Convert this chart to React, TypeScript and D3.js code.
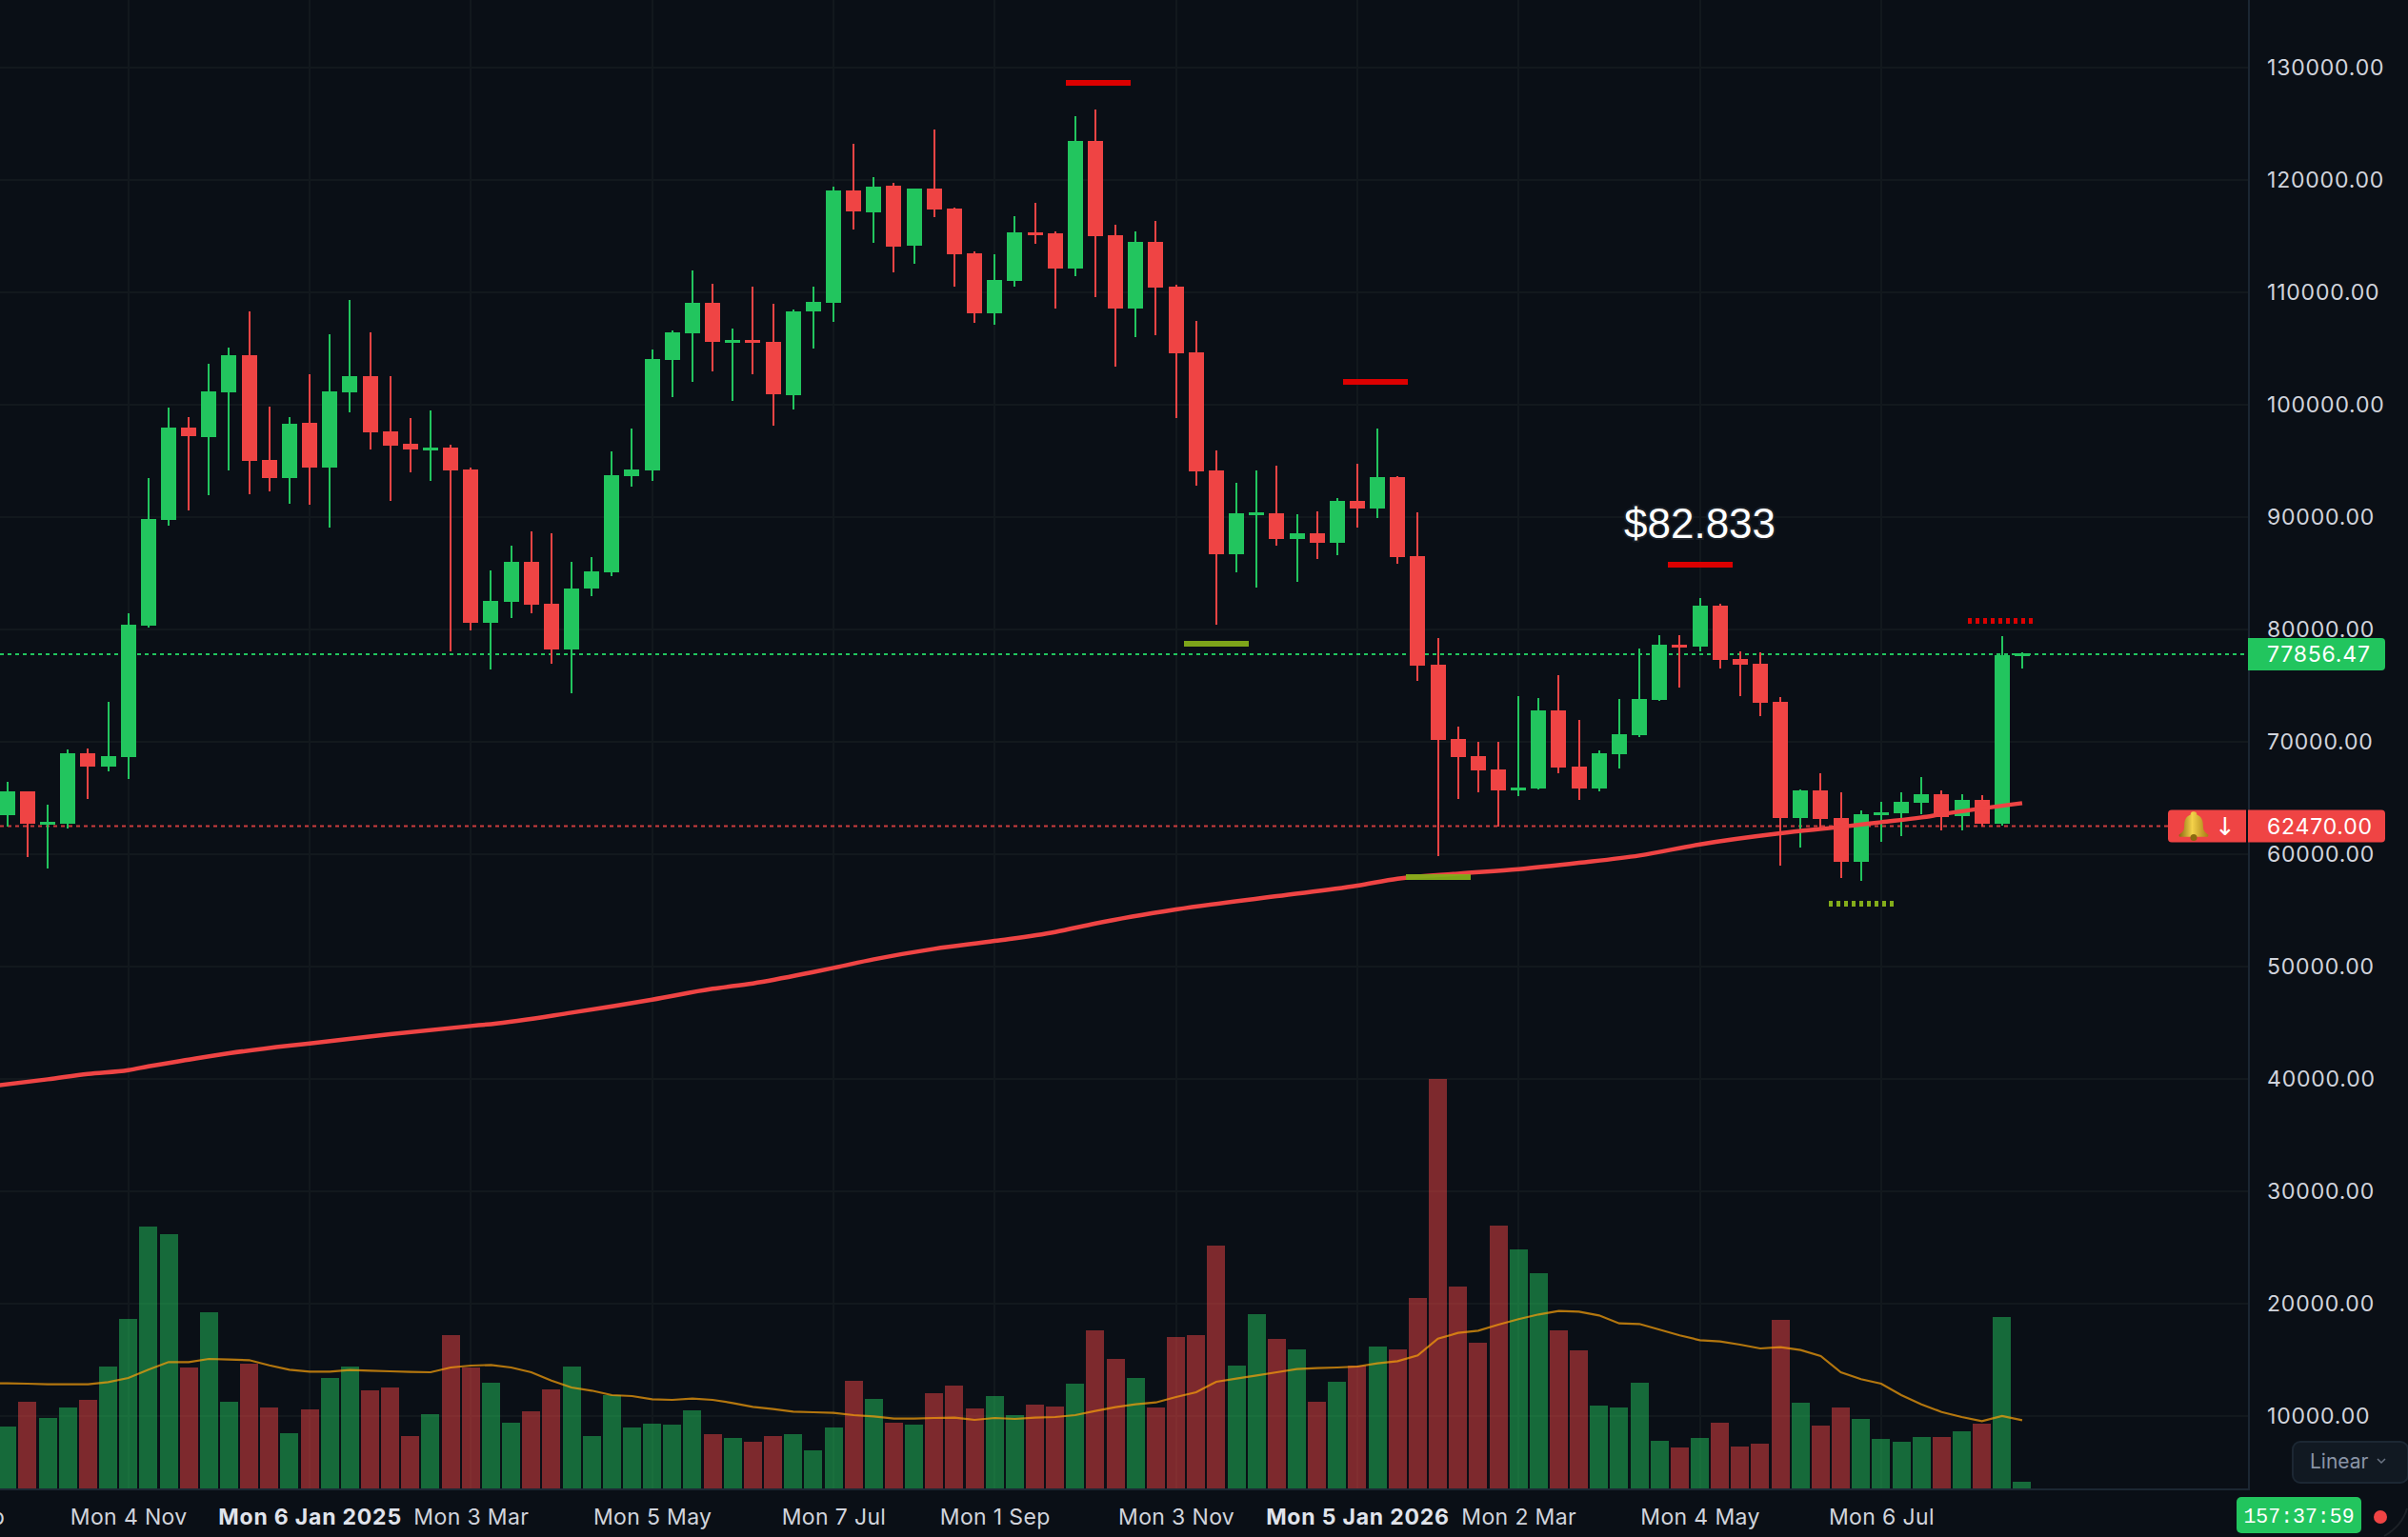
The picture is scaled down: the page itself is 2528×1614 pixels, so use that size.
import React, { useEffect, useRef } from 'react';
import * as d3 from 'd3';

// weekly candles, first one is Mon 23 Sep 2024
const firstWeek = Date.UTC(2024, 8, 23);

const opens = [
  63446, 65565, 62598, 62683, 68955, 67768, 68616, 80311, 89718, 97939,
  97091, 101074, 104380, 95057, 93447, 98362, 94379, 101074, 102515, 97600,
  96498, 95905, 96159, 94210, 80565, 82429, 85989, 82260, 78192, 83616,
  85057, 93617, 94125, 103956, 106329, 109041, 105567, 105736, 105567, 100821,
  108279, 109041, 119042, 117093, 119466, 114126, 119211, 117432, 113448, 108109,
  110991, 115313, 115228, 112092, 123449, 115059, 108533, 114465, 110482, 104634,
  94125, 86667, 90142, 90312, 88023, 88532, 87684, 91413, 90735, 93532,
  86498, 76836, 70226, 68700, 67514, 65649, 65819, 72768, 67768, 65819,
  68870, 70565, 73701, 78616, 78447, 82091, 77345, 76921, 73531, 63192,
  65649, 63192, 59293, 63446, 63615, 64548, 65310, 63389, 64802, 62683,
  77700,
];
const highs = [
  66412, 65565, 64378, 69294, 69378, 73531, 81413, 93447, 99718, 98871,
  103617, 105058, 108278, 99803, 98871, 102685, 106244, 109295, 106414, 102515,
  98786, 99464, 96413, 94379, 85226, 87430, 88701, 88531, 85989, 86413,
  95821, 97854, 104889, 106584, 111923, 110736, 106753, 110482, 108957, 108448,
  110482, 119381, 123195, 120228, 119720, 119211, 124466, 117516, 113618, 113364,
  116754, 117940, 115398, 125652, 126246, 115991, 115398, 116330, 110652, 107431,
  95905, 93024, 94125, 94549, 90227, 90481, 91668, 94719, 97854, 93600,
  90396, 79209, 71328, 69972, 69972, 74040, 73870, 75904, 71921, 69209,
  73785, 78277, 79464, 79464, 82769, 82260, 78023, 77938, 73955, 65734,
  67175, 65480, 63870, 64632, 65480, 66836, 65649, 65310, 65226, 79379,
  77900,
];
const lows = [
  62429, 59717, 58700, 62259, 64887, 67344, 66666, 80141, 89209, 90565,
  91921, 94125, 92006, 92260, 91159, 91074, 89040, 99295, 95989, 91413,
  93955, 93193, 78022, 79887, 76412, 80989, 81412, 76921, 74293, 82938,
  84700, 92685, 93193, 100651, 102007, 102939, 100312, 102685, 98109, 99549,
  104973, 107346, 115567, 114381, 111753, 112516, 116669, 110482, 107262, 107092,
  110482, 114296, 108533, 111414, 109550, 103363, 105990, 106160, 98787, 92769,
  80396, 85057, 83701, 87430, 84210, 86244, 86583, 89040, 89888, 85820,
  75396, 59802, 64887, 65480, 62429, 65141, 65734, 67175, 64802, 65565,
  67599, 70395, 73616, 74802, 78023, 76497, 74040, 72260, 58954, 60564,
  62344, 57852, 57598, 61073, 61581, 63531, 62090, 62090, 62401, 62514,
  76497,
];
const closes = [
  65565, 62683, 62853, 68955, 67768, 68700, 80396, 89803, 97939, 97176,
  101159, 104380, 94972, 93447, 98278, 94379, 101159, 102515, 97515, 96328,
  95989, 96159, 94125, 80565, 82514, 85989, 82175, 78192, 83616, 85141,
  93701, 94210, 104041, 106414, 109041, 105567, 105736, 105482, 100905, 108279,
  109126, 119042, 117177, 119381, 114042, 119211, 117347, 113364, 108109, 111075,
  115313, 115059, 112092, 123449, 114974, 108533, 114465, 110397, 104550, 94041,
  86667, 90312, 90396, 88023, 88532, 87684, 91413, 90735, 93532, 86413,
  76752, 70141, 68616, 67429, 65649, 65904, 72768, 67683, 65819, 68955,
  70650, 73785, 78616, 78447, 82091, 77260, 76836, 73446, 63192, 65649,
  63107, 59293, 63531, 63700, 64632, 65310, 63248, 64802, 62683, 77712,
  77856.47,
];
const volumes = [
  6470, 9070, 7370, 8470, 9270, 12770, 17770, 27470, 26670, 12670,
  18470, 9070, 13070, 8470, 5770, 8270, 11570, 12770, 10270, 10570,
  5470, 7770, 16070, 12700, 11070, 6870, 8070, 10370, 12770, 5470,
  9770, 6370, 6770, 6670, 8170, 5670, 5270, 4870, 5470, 5670,
  3970, 6370, 11270, 9370, 6870, 6670, 9970, 10770, 8370, 9670,
  7670, 8770, 8570, 10970, 16570, 13570, 11570, 8470, 15870, 16070,
  25470, 12870, 18270, 15670, 14570, 9070, 11170, 12870, 14870, 14570,
  19970, 42970, 21170, 15270, 27570, 25070, 22570, 16570, 14470, 8670,
  8470, 11070, 4970, 4270, 5270, 6870, 4370, 4670, 17670, 8970,
  6570, 8470, 7270, 5170, 4870, 5370, 5370, 5970, 6770, 17970,
  670,
];
// volume average starts one week before the first candle, off the left edge
const volumeMa = [
  11050,
  11030, 11000, 10930, 10930, 10930, 11170, 11600, 12470, 13270, 13270,
  13600, 13530, 13470, 12930, 12470, 12270, 12270, 12430, 12370, 12300,
  12230, 12200, 12700, 12900, 12970, 12700, 12200, 11330, 10600, 10270,
  9800, 9700, 9370, 9300, 9430, 9300, 8970, 8570, 8330, 8070,
  8000, 7930, 7700, 7570, 7330, 7330, 7400, 7430, 7200, 7400,
  7300, 7430, 7500, 7700, 8130, 8530, 8830, 9030, 9600, 10100,
  11200, 11530, 11870, 12200, 12530, 12630, 12700, 12800, 13130, 13370,
  13970, 15730, 16330, 16570, 17200, 17770, 18270, 18630, 18570, 18170,
  17330, 17270, 16670, 16070, 15570, 15430, 15100, 14700, 14830, 14530,
  13900, 12200, 11470, 11000, 9800, 8830, 8030, 7500, 7070, 7600,
  7170,
];

// long moving average, read at these candle positions (weeks from first candle)
const trendWeeks = [
  -1, 2, 4, 6, 7, 9, 11, 14, 15, 19, 23, 24, 28, 32, 35, 37, 40, 41, 43, 46,
  49, 52, 54, 58, 63, 67, 69, 72, 75, 78, 81, 84, 88, 91, 93, 95, 96, 100,
];
const trendValues = [
  39292, 39942, 40423, 40761, 41100, 41694, 42259, 42937, 43134, 43954, 44688, 44857, 45874, 47033, 48000, 48474, 49490, 49858, 50620, 51553,
  52259, 53050, 53813, 55056, 56242, 57174, 57800, 58248, 58644, 59208, 59858, 60847, 61836, 62401, 62825, 63248, 63530, 64520,
];

const priceTicks = d3.range(10000, 140000, 10000);
const timeTicks = [
  Date.UTC(2024, 8, 2), Date.UTC(2024, 10, 4), Date.UTC(2025, 0, 6), Date.UTC(2025, 2, 3),
  Date.UTC(2025, 4, 5), Date.UTC(2025, 6, 7), Date.UTC(2025, 8, 1), Date.UTC(2025, 10, 3),
  Date.UTC(2026, 0, 5), Date.UTC(2026, 2, 2), Date.UTC(2026, 4, 4), Date.UTC(2026, 6, 6),
];
const timeLabels = [
  'Mon 2 Sep', 'Mon 4 Nov', 'Mon 6 Jan 2025', 'Mon 3 Mar', 'Mon 5 May', 'Mon 7 Jul',
  'Mon 1 Sep', 'Mon 3 Nov', 'Mon 5 Jan 2026', 'Mon 2 Mar', 'Mon 4 May', 'Mon 6 Jul',
];

// pivot markers: week, price, kind
const pivotWeeks = [54.15, 60, 67.9, 71, 84, 92, 98.9];
const pivotPrices = [128619, 78700, 102007, 57937, 85735, 55536, 80735];
const pivotKinds = ['high', 'low', 'high', 'low', 'high', 'low', 'high'];
const pivotDotted = [false, false, false, false, false, true, true];

const lastPrice = 77856.47;
const alertPrice = 62470;
const highLabel = '$82.833';

const WIDTH = 2528;
const HEIGHT = 1614;
const AXIS_X = 2361;
const BASE_Y = 1564;
const BG = '#0a0f16';
const GRID = '#12181d';
const EDGE = '#1c2733';
const GREEN = '#22c55e';
const RED = '#ef4444';
const TEXT = '#d1d4dc';
const FONT = 'Inter, sans-serif';

const App = () => {
  const ref = useRef<SVGSVGElement>(null);

  useEffect(() => {
    const svg = d3.select(ref.current);
    svg.selectAll('*').remove();

    const weekDate = (i: number) => new Date(firstWeek + i * 7 * 864e5);
    const x = d3.scaleUtc()
      .domain([new Date(Date.UTC(2024, 10, 4)), new Date(Date.UTC(2026, 6, 6))])
      .range([134.7, 1974.9]);
    const y = d3.scaleLinear().domain([130000, 10000]).range([70.7, 1486.7]);
    const yVol = d3.scaleLinear().domain([0, 43000]).range([1563, 1133]);
    const wx = (i: number) => x(weekDate(i));

    svg.append('rect').attr('width', WIDTH).attr('height', HEIGHT).attr('fill', BG);

    // grid
    const grid = svg.append('g').attr('stroke', GRID).attr('stroke-width', 2).attr('shape-rendering', 'crispEdges');
    priceTicks.forEach(p => {
      grid.append('line').attr('x1', 0).attr('x2', AXIS_X).attr('y1', y(p)).attr('y2', y(p));
    });
    timeTicks.forEach(t => {
      grid.append('line').attr('x1', x(new Date(t))).attr('x2', x(new Date(t))).attr('y1', 0).attr('y2', BASE_Y);
    });

    // volume
    const volG = svg.append('g').attr('shape-rendering', 'crispEdges');
    volumes.forEach((v, i) => {
      volG.append('rect')
        .attr('x', wx(i) - 9.5)
        .attr('width', 19)
        .attr('y', yVol(v))
        .attr('height', yVol(0) - yVol(v))
        .attr('fill', closes[i] >= opens[i] ? GREEN : RED)
        .attr('fill-opacity', 0.5);
    });
    const volLine = d3.line<number>().x((_, i) => wx(i - 1)).y(d => yVol(d));
    svg.append('path')
      .attr('d', volLine(volumeMa))
      .attr('fill', 'none')
      .attr('stroke', '#f59e0b')
      .attr('stroke-opacity', 0.72)
      .attr('stroke-width', 2.2);

    // price lines, under the candles
    svg.append('line')
      .attr('x1', 0).attr('x2', AXIS_X - 2).attr('y1', y(lastPrice) + 1).attr('y2', y(lastPrice) + 1)
      .attr('stroke', GREEN).attr('stroke-width', 2).attr('stroke-dasharray', '4 4');
    svg.append('line')
      .attr('x1', 0).attr('x2', 2276).attr('y1', y(alertPrice)).attr('y2', y(alertPrice))
      .attr('stroke', RED).attr('stroke-opacity', 0.85).attr('stroke-width', 2).attr('stroke-dasharray', '4 4');

    // candles
    const candles = svg.append('g').attr('shape-rendering', 'crispEdges');
    opens.forEach((o, i) => {
      const c = closes[i];
      const color = c >= o ? GREEN : RED;
      const top = y(Math.max(o, c));
      const bot = y(Math.min(o, c));
      candles.append('rect')
        .attr('x', wx(i) - 1).attr('width', 2)
        .attr('y', y(highs[i])).attr('height', y(lows[i]) - y(highs[i]))
        .attr('fill', color);
      candles.append('rect')
        .attr('x', wx(i) - 8).attr('width', 16)
        .attr('y', top).attr('height', Math.max(bot - top, 3))
        .attr('fill', color);
    });

    // long moving average
    const trendLine = d3.line<number>()
      .x((_, i) => wx(trendWeeks[i]))
      .y(d => y(d))
      .curve(d3.curveMonotoneX);
    svg.append('path')
      .attr('d', trendLine(trendValues))
      .attr('fill', 'none')
      .attr('stroke', RED)
      .attr('stroke-width', 4.5);

    // pivot markers
    pivotWeeks.forEach((w, i) => {
      const isHigh = pivotKinds[i] === 'high';
      svg.append('line')
        .attr('x1', wx(w) - 34).attr('x2', wx(w) + 34)
        .attr('y1', y(pivotPrices[i])).attr('y2', y(pivotPrices[i]))
        .attr('stroke', isHigh ? '#dc0000' : '#84ad1a')
        .attr('stroke-opacity', pivotKinds[i] === 'low' && !pivotDotted[i] ? 0.95 : 1)
        .attr('stroke-width', 6)
        .attr('stroke-dasharray', pivotDotted[i] ? '4 4' : null)
        .attr('shape-rendering', 'crispEdges');
    });
    svg.append('text')
      .attr('x', wx(84))
      .attr('y', y(pivotPrices[4]) - 43)
      .attr('dy', '0.35em')
      .attr('text-anchor', 'middle')
      .attr('font-family', '"Liberation Sans", Arial, sans-serif')
      .attr('font-size', 44)
      .attr('fill', '#ffffff')
      .attr('stroke', '#1a1f26')
      .attr('stroke-width', 4)
      .attr('paint-order', 'stroke')
      .text(highLabel);

    // axes
    svg.append('line')
      .attr('x1', 0).attr('x2', AXIS_X + 1).attr('y1', BASE_Y).attr('y2', BASE_Y)
      .attr('stroke', EDGE).attr('stroke-width', 2);
    svg.append('line')
      .attr('x1', AXIS_X).attr('x2', AXIS_X).attr('y1', 0).attr('y2', BASE_Y)
      .attr('stroke', EDGE).attr('stroke-width', 2);

    const yAxis = d3.axisRight(y)
      .tickValues(priceTicks)
      .tickSize(0)
      .tickPadding(19)
      .tickFormat(d => (d as number).toFixed(2));
    const yG = svg.append('g').attr('transform', `translate(${AXIS_X},0)`).call(yAxis);
    yG.select('.domain').remove();
    yG.selectAll('text')
      .attr('font-family', FONT)
      .attr('font-size', 23)
      .attr('letter-spacing', 0.8)
      .attr('fill', TEXT);

    const xAxis = d3.axisBottom(x)
      .tickValues(timeTicks.map(t => new Date(t)))
      .tickSize(0)
      .tickFormat((_, i) => timeLabels[i]);
    const xG = svg.append('g').attr('transform', `translate(0,${BASE_Y})`).call(xAxis);
    xG.select('.domain').remove();
    xG.selectAll<SVGTextElement, Date>('text')
      .attr('y', 29)
      .attr('dy', '0.35em')
      .attr('font-family', FONT)
      .attr('font-size', 23)
      .attr('letter-spacing', (_, i) => (timeLabels[i].includes('20') ? 0.8 : 0.35))
      .attr('fill', (_, i) => (timeLabels[i].includes('20') ? '#e0e3eb' : TEXT))
      .attr('font-weight', (_, i) => (timeLabels[i].includes('20') ? 700 : 400));

    // price tags
    const rightTag = (py: number, fill: string, label: string) => {
      svg.append('path')
        .attr('d', `M2360,${py - 17}H2500a4,4 0 0 1 4,4V${py + 13}a4,4 0 0 1 -4,4H2360Z`)
        .attr('fill', fill);
      svg.append('text')
        .attr('x', 2380).attr('y', py).attr('dy', '0.35em')
        .attr('font-family', FONT).attr('font-size', 23).attr('letter-spacing', 0.8).attr('fill', '#ffffff')
        .text(label);
    };
    rightTag(y(lastPrice) + 1, GREEN, lastPrice.toFixed(2));
    rightTag(y(alertPrice), RED, alertPrice.toFixed(2));

    // alert tag with bell
    const ay = y(alertPrice);
    svg.append('path')
      .attr('d', `M2358,${ay - 17}H2280a4,4 0 0 0 -4,4V${ay + 13}a4,4 0 0 0 4,4H2358Z`)
      .attr('fill', RED);
    const grad = svg.append('defs').append('linearGradient').attr('id', 'bell').attr('x1', 0).attr('x2', 1);
    grad.append('stop').attr('offset', 0).attr('stop-color', '#8a6a10');
    grad.append('stop').attr('offset', 0.45).attr('stop-color', '#f4d24a');
    grad.append('stop').attr('offset', 1).attr('stop-color', '#a67c14');
    svg.append('path')
      .attr('transform', `translate(2303,${ay - 1}) scale(1.1)`)
      .attr('d', 'M0,-13 c2,0 3,1 3,3 c5,2 6,6 6,11 c0,4 2,6 5,8 c0,1 0,2 -1,2 h-26 c-1,0 -1,-1 -1,-2 c3,-2 5,-4 5,-8 c0,-5 1,-9 6,-11 c0,-2 1,-3 3,-3Z')
      .attr('fill', 'url(#bell)');
    svg.append('circle').attr('cx', 2303).attr('cy', ay + 12).attr('r', 3.5).attr('fill', '#8a6a10');
    svg.append('text')
      .attr('x', 2336).attr('y', ay).attr('dy', '0.35em').attr('text-anchor', 'middle')
      .attr('font-family', '"DejaVu Sans", sans-serif').attr('font-size', 26).attr('fill', '#ffffff')
      .text('↓');

    // scale button
    svg.append('rect')
      .attr('x', 2407).attr('y', 1514).attr('width', 121).attr('height', 43).attr('rx', 8)
      .attr('fill', '#111922').attr('stroke', EDGE).attr('stroke-width', 2);
    svg.append('text')
      .attr('x', 2425).attr('y', 1535).attr('dy', '0.35em')
      .attr('font-family', FONT).attr('font-size', 21).attr('fill', '#8a94a6')
      .text('Linear');
    svg.append('path')
      .attr('d', 'M2496,1532l4,4l4,-4')
      .attr('fill', 'none').attr('stroke', '#6b7585').attr('stroke-width', 1.5);

    // countdown
    svg.append('rect')
      .attr('x', 2348).attr('y', 1572).attr('width', 131).attr('height', 38).attr('rx', 5)
      .attr('fill', GREEN);
    svg.append('text')
      .attr('x', 2413.5).attr('y', 1591).attr('dy', '0.35em').attr('text-anchor', 'middle')
      .attr('font-family', '"Liberation Mono", monospace').attr('font-size', 21.5).attr('fill', '#ffffff')
      .text('157:37:59');
    svg.append('circle').attr('cx', 2499).attr('cy', 1593).attr('r', 7).attr('fill', RED);

    // window corner at the bottom right
    svg.append('path')
      .attr('d', 'M2527,1584Q2522,1602 2503,1613')
      .attr('fill', 'none').attr('stroke', '#1c2127').attr('stroke-width', 2);
  }, []);

  return (
    <svg
      ref={ref}
      width={WIDTH}
      height={HEIGHT}
      style={{ position: 'absolute', left: 0, top: 0, display: 'block' }}
    />
  );
};

export default App;
